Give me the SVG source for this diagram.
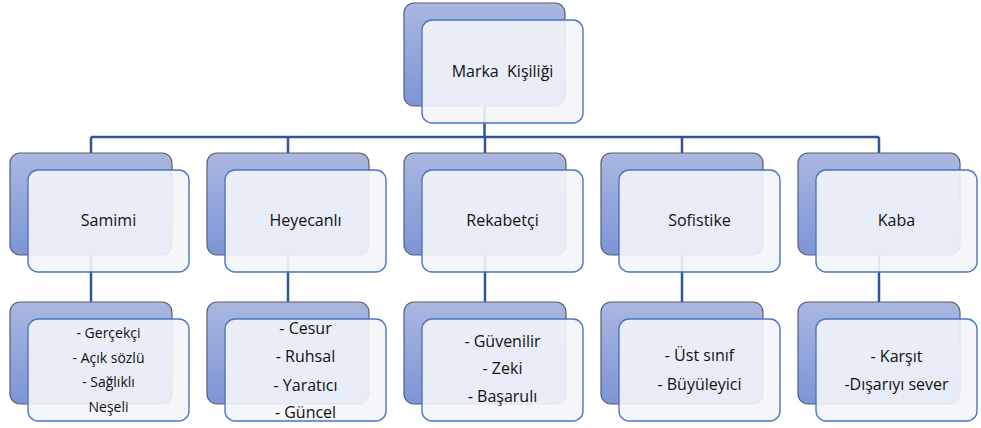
<svg xmlns="http://www.w3.org/2000/svg" width="981" height="428" viewBox="0 0 981 428">
<defs>
<linearGradient id="bg" x1="0" y1="0" x2="0" y2="1">
<stop offset="0" stop-color="#aab7e0"/>
<stop offset="1" stop-color="#7d94d6"/>
</linearGradient>
<style>
.back{fill:url(#bg);stroke:#5a5f6b;stroke-width:1.2}
.front{fill:#f3f5fa;fill-opacity:0.9;stroke:#4a76c6;stroke-width:1.4}
.conn{fill:none;stroke:#2f5597;stroke-width:2.5}
text{font-family:"Open Sans","Noto Sans","Liberation Sans",sans-serif;font-size:16px;fill:#111;text-anchor:middle;white-space:pre}
.sm{font-size:14px}
</style>
</defs>
<rect width="981" height="428" fill="#fff"/>
<g id="connectors">
<path class="conn" d="M484.5 106V137M91 137H879M91 137V302M288 137V302M485 137V302M682 137V302M879 137V302"/>
</g>
<g id="root">
<rect class="back" x="404" y="3" width="161" height="103" rx="10"/>
<rect class="front" x="422" y="20" width="161" height="103" rx="10"/>
<text x="502.5" y="77">Marka  Kişiliği</text>
</g>
<g id="samimi">
<rect class="back" x="10" y="153" width="162" height="102" rx="10"/>
<rect class="front" x="28" y="170" width="161" height="102" rx="10"/>
<text x="108.5" y="226">Samimi</text>
</g>
<g id="heyecanli">
<rect class="back" x="207" y="153" width="162" height="102" rx="10"/>
<rect class="front" x="225" y="170" width="161" height="102" rx="10"/>
<text x="305.5" y="226">Heyecanlı</text>
</g>
<g id="rekabetci">
<rect class="back" x="404" y="153" width="162" height="102" rx="10"/>
<rect class="front" x="422" y="170" width="161" height="102" rx="10"/>
<text x="502.5" y="226">Rekabetçi</text>
</g>
<g id="sofistike">
<rect class="back" x="601" y="153" width="162" height="102" rx="10"/>
<rect class="front" x="619" y="170" width="161" height="102" rx="10"/>
<text x="699.5" y="226">Sofistike</text>
</g>
<g id="kaba">
<rect class="back" x="798" y="153" width="162" height="102" rx="10"/>
<rect class="front" x="816" y="170" width="161" height="102" rx="10"/>
<text x="896.5" y="226">Kaba</text>
</g>
<g id="samimi-list">
<rect class="back" x="10" y="302" width="162" height="102" rx="10"/>
<rect class="front" x="28" y="319" width="161" height="102" rx="10"/>
<text class="sm" x="108.5" y="338">- Gerçekçi</text>
<text class="sm" x="108.5" y="363">- Açık sözlü</text>
<text class="sm" x="108.5" y="387">- Sağlıklı</text>
<text class="sm" x="108.5" y="412">Neşeli</text>
</g>
<g id="heyecanli-list">
<rect class="back" x="207" y="302" width="162" height="102" rx="10"/>
<rect class="front" x="225" y="319" width="161" height="102" rx="10"/>
<text x="305.5" y="334">- Cesur</text>
<text x="305.5" y="362">- Ruhsal</text>
<text x="305.5" y="391">- Yaratıcı</text>
<text x="305.5" y="418">- Güncel</text>
</g>
<g id="rekabetci-list">
<rect class="back" x="404" y="302" width="162" height="102" rx="10"/>
<rect class="front" x="422" y="319" width="161" height="102" rx="10"/>
<text x="502.5" y="347">- Güvenilir</text>
<text x="502.5" y="374">- Zeki</text>
<text x="502.5" y="402">- Başarulı</text>
</g>
<g id="sofistike-list">
<rect class="back" x="601" y="302" width="162" height="102" rx="10"/>
<rect class="front" x="619" y="319" width="161" height="102" rx="10"/>
<text x="699.5" y="361">- Üst sınıf</text>
<text x="699.5" y="390">- Büyüleyici</text>
</g>
<g id="kaba-list">
<rect class="back" x="798" y="302" width="162" height="102" rx="10"/>
<rect class="front" x="816" y="319" width="161" height="102" rx="10"/>
<text x="896.5" y="362">- Karşıt</text>
<text x="896.5" y="390">-Dışarıyı sever</text>
</g>
</svg>
